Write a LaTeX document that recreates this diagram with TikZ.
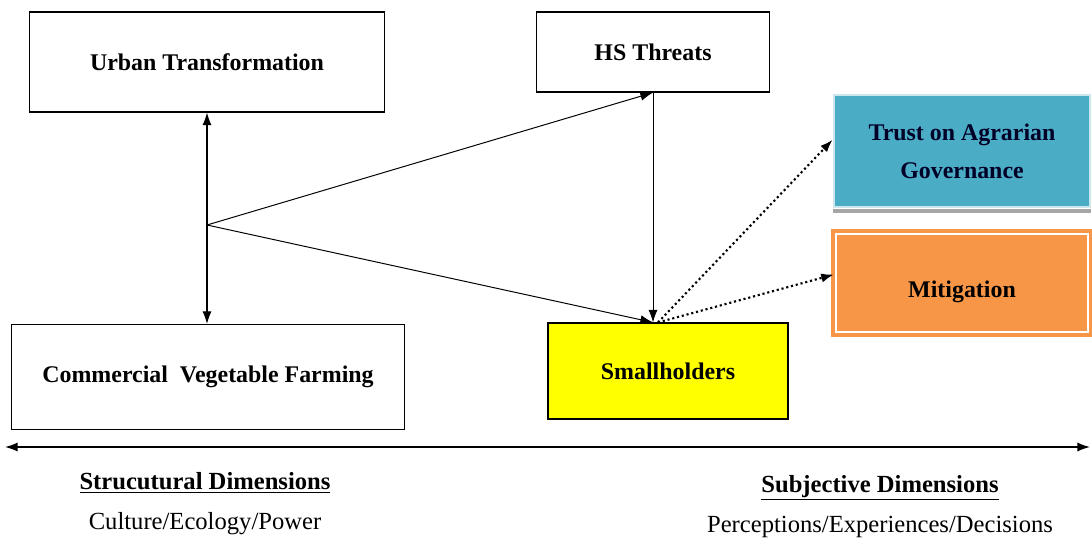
\documentclass[tikz,border=0pt]{standalone}
\definecolor{trustteal}{RGB}{75,172,198}
\definecolor{trustrim}{RGB}{205,230,238}
\definecolor{mitorange}{RGB}{247,150,70}
\definecolor{smallyellow}{RGB}{255,255,0}
\usepackage{fontspec}
\setmainfont{Liberation Serif}
\usepackage{tikz}
\usetikzlibrary{shapes,arrows,arrows.meta,positioning,calc}

\tikzset{
  factor/.style={draw, line width=0.8pt, inner sep=0pt, align=center,
    font=\fontsize{17}{27}\selectfont\bfseries},
  tip/.style={-{Latex[length=9pt,width=6.5pt]}, line width=0.7pt},
  twotip/.style={{Latex[length=9pt,width=6.5pt]}-{Latex[length=9pt,width=6.5pt]}, line width=0.8pt},
  dotlink/.style={-{Latex[length=9pt,width=6.5pt]}, line width=1.5pt, dotted},
  dimhead/.style={font=\fontsize{17.5}{20}\selectfont\bfseries},
  dimtext/.style={font=\fontsize{17.5}{20}\selectfont},
}

\begin{document}
\begin{tikzpicture}[x=0.025cm, y=-0.025cm]
  \useasboundingbox (0,0) rectangle (1092,540);

  % boxes
  \node[factor, minimum width=8.875cm, minimum height=2.5cm] (urban) at (207,62) {Urban Transformation};
  \node[factor, minimum width=5.825cm, minimum height=2cm] (hs) at (653,52) {HS Threats};
  \node[factor, minimum width=9.825cm, minimum height=2.625cm] (farming) at (208,377) {Commercial\enspace Vegetable Farming};
  \node[factor, fill=smallyellow, minimum width=6cm, minimum height=2.4cm] (small) at (668,371) {Smallholders};
  \node[factor, draw=trustrim, line width=2pt, fill=trustteal, text=black!85!blue,
        minimum width=6.4cm, minimum height=2.8cm] (trust) at (962,151) {Trust on Agrarian\\Governance};
  \node[factor, draw=mitorange, double=white, double distance=1.6pt, line width=3pt,
        fill=mitorange, text height=25pt, text depth=4pt,
        minimum width=6.3cm, minimum height=2.45cm] (mitig) at (962,283) {Mitigation};
  \draw[black!35, line width=2.5pt] ([yshift=-2pt]trust.south west) -- ([yshift=-2pt]trust.south east);

  % connectors
  \coordinate (hub) at (urban.south |- 0,225);
  \coordinate (meet) at (hs.south |- small.north);
  \coordinate (fan) at ($(meet)+(5,0)$);
  \draw[twotip] (urban.south) -- (urban.south |- farming.north);
  \draw[tip] (hub) -- (hs.south);
  \draw[tip] (hub) -- (meet);
  \draw[tip] (hs.south) -- (meet);
  \draw[dotlink] (fan) -- ([yshift=8pt]trust.west);
  \draw[dotlink] (fan) -- ([yshift=6pt]mitig.west);

  % dimension axis
  \coordinate (axisL) at (5,447);
  \coordinate (axisR) at (1090,447);
  \draw[twotip, line width=1pt] (axisL) -- (axisR);
  \node[dimhead] (struct) at (205,483) {\underline{Strucutural Dimensions}};
  \node[dimtext] (structsub) at (205,524) {Culture/Ecology/Power};
  \node[dimhead] (subj) at (880,488) {\underline{Subjective Dimensions}};
  \node[dimtext] (subjsub) at (880,527) {Perceptions/Experiences/Decisions};
\end{tikzpicture}
\end{document}
